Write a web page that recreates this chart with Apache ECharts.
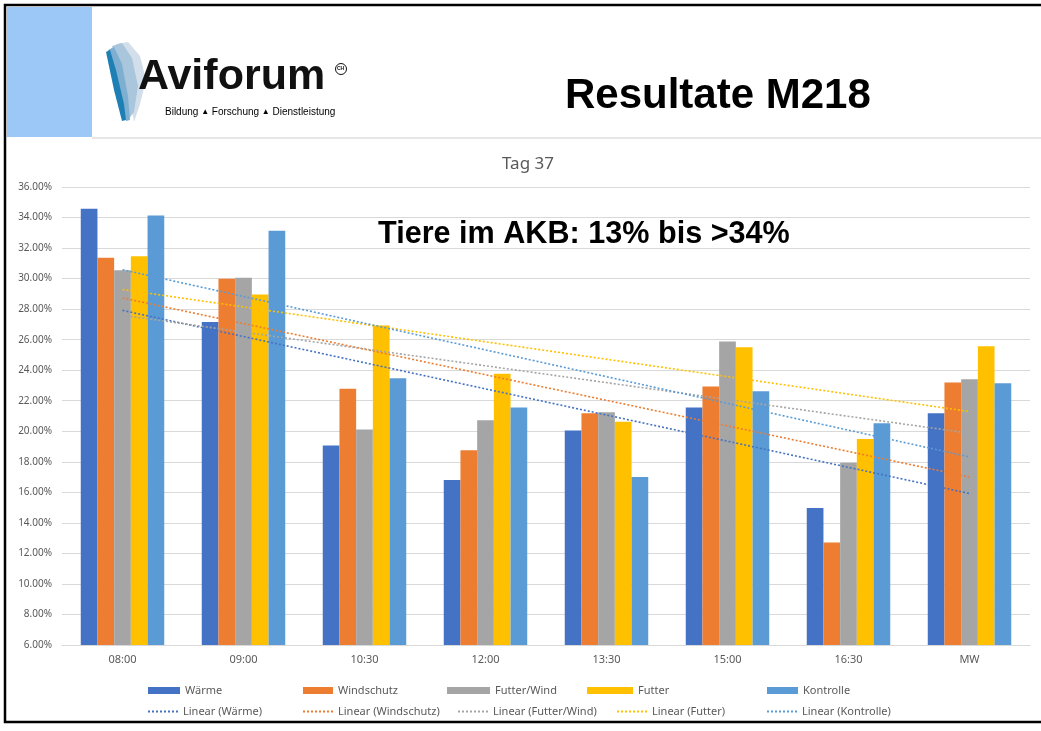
<!DOCTYPE html>
<html>
<head>
<meta charset="utf-8">
<script src="https://cdn.jsdelivr.net/npm/echarts@6/dist/echarts.min.js"></script>
<style>
html,body{margin:0;padding:0;background:#fff;}
#chart{width:1041px;height:731px;}
</style>
</head>
<body>
<div id="chart"></div>
<script>
const categories = ['08:00', '09:00', '10:30', '12:00', '13:30', '15:00', '16:30', 'MW'];
const seriesNames = ['Wärme', 'Windschutz', 'Futter/Wind', 'Futter', 'Kontrolle'];
const waerme     = [34.58, 27.15, 19.06, 16.81, 20.05, 21.55, 14.98, 21.18];
const windschutz = [31.37, 29.99, 22.78, 18.76, 21.18, 22.93, 12.72, 23.19];
const futterWind = [30.54, 30.06, 20.11, 20.72, 21.25, 25.88, 17.93, 23.41];
const futter     = [31.46, 28.96, 26.93, 23.76, 20.62, 25.51, 19.50, 25.57];
const kontrolle  = [34.14, 33.14, 23.48, 21.55, 17.01, 22.62, 20.52, 23.15];
const yTicks = [6, 8, 10, 12, 14, 16, 18, 20, 22, 24, 26, 28, 30, 32, 34, 36];

const colors = ['#4472C4', '#ED7D31', '#A5A5A5', '#FFC000', '#5B9BD5'];
const allData = [waerme, windschutz, futterWind, futter, kontrolle];

// least-squares trendline (Excel "Linear"), endpoints only
function trend(vals) {
  const n = vals.length;
  let sx = 0, sy = 0, sxy = 0, sxx = 0;
  vals.forEach((v, i) => { sx += i; sy += v; sxy += i * v; sxx += i * i; });
  const b = (n * sxy - sx * sy) / (n * sxx - sx * sx);
  const a = (sy - b * sx) / n;
  return vals.map((v, i) => (i === 0 || i === n - 1) ? +(a + b * i).toFixed(3) : null);
}

const series = [];
allData.forEach((d, i) => {
  series.push({
    name: seriesNames[i], type: 'bar', data: d,
    itemStyle: { color: colors[i] },
    barGap: '0%', barCategoryGap: '31%',
    emphasis: { disabled: true }
  });
});
allData.forEach((d, i) => {
  series.push({
    name: 'Linear (' + seriesNames[i] + ')', type: 'line', data: trend(d),
    connectNulls: true, symbol: 'none', showSymbol: false, z: 5,
    lineStyle: { color: colors[i], width: 1.6, type: [2, 2] },
    itemStyle: { color: colors[i] },
    emphasis: { disabled: true }
  });
});

let dots = 'path://';
for (let k = 0; k < 8; k++) dots += 'M' + (k * 4) + ' 0h2v2h-2z';

const legendFont = { fontFamily: 'Noto Sans', fontSize: 11, color: '#595959' };
const legendPos1 = [143, 298, 442, 582, 762];
const iconW1 = [32, 30, 43, 46, 31];
const legendPos2 = [143, 298, 453, 612, 762];
const legends = [];
seriesNames.forEach((n, i) => {
  legends.push({
    data: [{ name: n, icon: 'rect' }], left: legendPos1[i], top: 680,
    itemWidth: iconW1[i], itemHeight: 7, itemGap: 4,
    textStyle: legendFont, selectedMode: false
  });
  legends.push({
    data: [{ name: 'Linear (' + n + ')', icon: dots }], left: legendPos2[i], top: 701,
    itemWidth: 30, itemHeight: 2, itemGap: 5,
    textStyle: legendFont, selectedMode: false
  });
});

const chart = echarts.init(document.getElementById('chart'));
chart.setOption({
  animation: false,
  backgroundColor: '#fff',
  title: {
    text: 'Tag 37', left: 523, top: 151, textAlign: 'center',
    textStyle: { fontFamily: 'Noto Sans', fontSize: 17, fontWeight: 'normal', color: '#595959' }
  },
  legend: legends,
  grid: { left: 62, right: 11, top: 187, bottom: 86, containLabel: false },
  xAxis: {
    type: 'category', data: categories,
    axisLine: { lineStyle: { color: '#D9D9D9' } },
    axisTick: { show: false },
    axisLabel: { fontFamily: 'Noto Sans', fontSize: 11, color: '#595959', margin: 9 }
  },
  yAxis: {
    type: 'value', min: yTicks[0], max: yTicks[yTicks.length - 1], interval: 2,
    axisLine: { show: false }, axisTick: { show: false },
    splitLine: { lineStyle: { color: '#D9D9D9', width: 1 } },
    axisLabel: { fontFamily: 'Noto Sans', fontSize: 10, color: '#595959', margin: 10,
      formatter: v => v.toFixed(2) + '%' }
  },
  series: series,
  graphic: [
    { type: 'rect', z: 0, shape: { x: 7, y: 7, width: 85, height: 130 }, style: { fill: '#9BC8F7' } },
    { type: 'line', z: 0, shape: { x1: 92, y1: 138, x2: 1041, y2: 138 }, style: { stroke: '#E6E6E6', lineWidth: 2 } },
    // logo swooshes
    { type: 'polygon', z: 10, shape: { points: [[116,44],[128,42],[140,56],[146,80],[140,104],[134,122],[130,98]] }, style: { fill: '#D2DFEA' } },
    { type: 'polygon', z: 10, shape: { points: [[112,46],[122,43],[132,58],[138,86],[134,112],[128,120],[124,84]] }, style: { fill: '#A9C6DC' } },
    { type: 'polygon', z: 10, shape: { points: [[108,50],[114,47],[122,64],[128,96],[130,120],[126,121],[118,86]] }, style: { fill: '#7FAFD0' } },
    { type: 'polygon', z: 10, shape: { points: [[106,52],[110,50],[116,70],[124,104],[126,120],[122,121],[114,90]] }, style: { fill: '#1E7FB5' } },
    { type: 'text', z: 11, left: 138, top: 56,
      style: { text: 'Aviforum', font: 'bold 43px "Liberation Sans"', fill: '#111' } },
    { type: 'circle', z: 11, shape: { cx: 341, cy: 69, r: 5.5 }, style: { fill: '#fff', stroke: '#111', lineWidth: 1 } },
    { type: 'text', z: 12, left: 337, top: 66.5, style: { text: 'CH', font: 'bold 5px "Liberation Sans"', fill: '#111' } },
    { type: 'text', z: 11, left: 165, top: 107,
      style: { rich: { t: { fontFamily: 'Liberation Sans', fontSize: 10, color: '#333' }, a: { fontSize: 8, color: '#9EBFD9' } },
        text: '{t|Bildung }{a|▲}{t| Forschung }{a|▲}{t| Dienstleistung}' } },
    { type: 'text', z: 11, left: 565, top: 75,
      style: { text: 'Resultate M218', font: 'bold 42px "Liberation Sans"', fill: '#000' } },
    { type: 'text', z: 11, left: 378, top: 219,
      style: { text: 'Tiere im AKB: 13% bis >34%', font: 'bold 30.6px "Liberation Sans"', fill: '#000' } },
    { type: 'rect', z: 20, shape: { x: 5, y: 5, width: 1045, height: 717 }, style: { fill: 'none', stroke: '#000', lineWidth: 2.5 } }
  ]
});
</script>
</body>
</html>
